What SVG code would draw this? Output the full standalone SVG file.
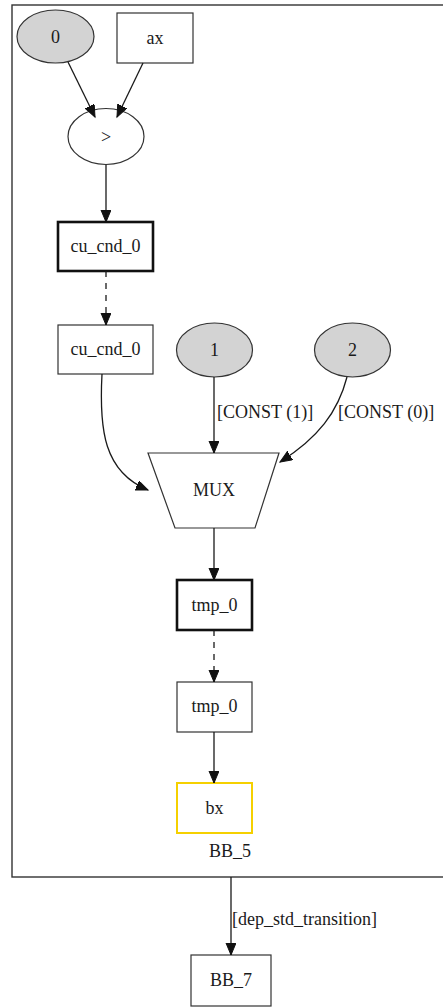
<svg xmlns="http://www.w3.org/2000/svg" width="443" height="1008" viewBox="0 0 443 1008">
  <style>
    text { font-family: "Liberation Serif", "Times New Roman", serif; font-size: 18px; fill: #1a1a1a; }
    .c { text-anchor: middle; }
    .box { fill: #ffffff; stroke: #333333; stroke-width: 1.2; }
    .bold { fill: #ffffff; stroke: #111111; stroke-width: 2.6; }
    .const { fill: #d3d3d3; stroke: #333333; stroke-width: 1.2; }
    .edge { fill: none; stroke: #1a1a1a; stroke-width: 1.3; marker-end: url(#arrow); }
    .dash { stroke-dasharray: 6 6; }
  </style>
  <defs>
    <marker id="arrow" markerUnits="userSpaceOnUse" markerWidth="14" markerHeight="12" refX="12" refY="5" orient="auto">
      <path d="M0,0 L12,5 L0,10 z" fill="#111111" stroke="#111111" stroke-width="1"/>
    </marker>
  </defs>

  <!-- cluster BB_5 -->
  <g id="cluster_BB_5">
    <rect x="12" y="5" width="445" height="872" fill="none" stroke="#333333" stroke-width="1.4"/>
    <text x="230" y="857" class="c">BB_5</text>
  </g>

  <!-- nodes -->
  <g id="n_const0">
    <ellipse cx="55.5" cy="36.5" rx="38.5" ry="26.5" class="const"/>
    <text x="55.5" y="43" class="c">0</text>
  </g>
  <g id="n_ax">
    <rect x="117" y="13" width="76" height="50" class="box"/>
    <text x="155" y="44" class="c">ax</text>
  </g>
  <g id="n_gt">
    <ellipse cx="106" cy="136.5" rx="38" ry="28" class="box"/>
    <text x="106" y="143" class="c">&gt;</text>
  </g>
  <g id="n_cu_cnd_0_def">
    <rect x="58" y="222" width="95" height="49" class="bold"/>
    <text x="105.5" y="252" class="c">cu_cnd_0</text>
  </g>
  <g id="n_cu_cnd_0_use">
    <rect x="58" y="325" width="95" height="49" class="box"/>
    <text x="105.5" y="355" class="c">cu_cnd_0</text>
  </g>
  <g id="n_const1">
    <ellipse cx="214.5" cy="350" rx="38" ry="27" class="const"/>
    <text x="214.5" y="356" class="c">1</text>
  </g>
  <g id="n_const2">
    <ellipse cx="352.5" cy="350" rx="38" ry="27" class="const"/>
    <text x="352.5" y="356" class="c">2</text>
  </g>
  <g id="n_mux">
    <polygon points="148,453 279,453 255,528 175,528" class="box"/>
    <text x="214" y="496" class="c">MUX</text>
  </g>
  <g id="n_tmp_0_def">
    <rect x="177" y="580" width="75" height="50" class="bold"/>
    <text x="214.5" y="611" class="c">tmp_0</text>
  </g>
  <g id="n_tmp_0_use">
    <rect x="177" y="682" width="75" height="50" class="box"/>
    <text x="214.5" y="712" class="c">tmp_0</text>
  </g>
  <g id="n_bx">
    <rect x="177" y="783" width="75" height="50" fill="#ffffff" stroke="#f5d000" stroke-width="2"/>
    <text x="214.5" y="814" class="c">bx</text>
  </g>
  <g id="n_BB_7">
    <rect x="191" y="955" width="80" height="51" class="box"/>
    <text x="231" y="986" class="c">BB_7</text>
  </g>

  <!-- connectors -->
  <g id="edges">
    <path d="M68,62 L95,117" class="edge"/>
    <path d="M143,63 L117,117" class="edge"/>
    <path d="M106,165 L106,222" class="edge"/>
    <path d="M106,271 L106,325" class="edge dash"/>
    <path d="M102,374 C99,430 104,472 148,490" class="edge"/>
    <path d="M214,377 L214,453" class="edge"/>
    <text x="217" y="418">[CONST (1)]</text>
    <path d="M347,377 C338,412 318,438 280,462" class="edge"/>
    <text x="338" y="418">[CONST (0)]</text>
    <path d="M214,528 L214,580" class="edge"/>
    <path d="M214,630 L214,682" class="edge dash"/>
    <path d="M214,732 L214,783" class="edge"/>
    <path d="M231,877 L231,955" class="edge"/>
    <text x="232" y="925">[dep_std_transition]</text>
  </g>
</svg>
